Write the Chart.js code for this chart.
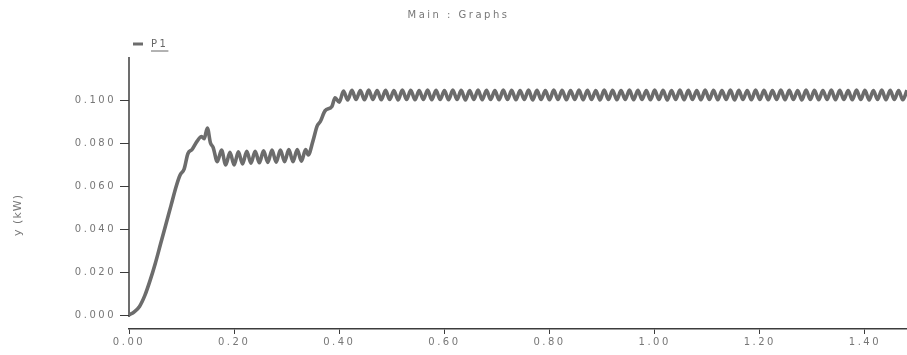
<!DOCTYPE html>
<html>
<head>
<meta charset="utf-8">
<script src="https://cdn.jsdelivr.net/npm/chart.js@4.4.1/dist/chart.umd.min.js"></script>
<style>
html,body{margin:0;padding:0;background:#fff;}
#wrap{width:907px;height:355px;position:relative;}
</style>
</head>
<body>
<div id="wrap"><canvas id="c"></canvas></div>
<script>
// ---- data ----
const chartTitle = 'Main : Graphs';
const seriesLabel = 'P1';
const yAxisTitle = 'y (kW)';
const xTickValues = [0.00, 0.20, 0.40, 0.60, 0.80, 1.00, 1.20, 1.40];
const yTickValues = [0.000, 0.020, 0.040, 0.060, 0.080, 0.100];

// start-up ramp (s, kW)
const riseTime  = [0.000,0.010,0.020,0.030,0.040,0.050,0.060,0.070,0.080,0.090,0.097,0.105,0.112,0.120,0.130,0.138,0.143,0.149,0.155,0.160];
const risePower = [0.0000,0.0015,0.0040,0.0090,0.0160,0.0240,0.0330,0.0420,0.0510,0.0600,0.0650,0.0680,0.0750,0.0770,0.0810,0.0830,0.0820,0.0870,0.0800,0.0780];

// first plateau (oscillating)
const midTime  = [0.168,0.176,0.184,0.192,0.200,0.208,0.216,0.224,0.232,0.240,0.248,0.256,0.264,0.272,0.280,0.288,0.296,0.304,0.312,0.320,0.328,0.336,0.341];
const midPower = [0.0713,0.0767,0.0698,0.0757,0.0698,0.0759,0.0703,0.0762,0.0706,0.0762,0.0708,0.0764,0.0710,0.0767,0.0711,0.0767,0.0713,0.0769,0.0713,0.0770,0.0715,0.0770,0.0745];

// second step
const stepTime  = [0.350,0.358,0.364,0.373,0.386,0.392,0.400];
const stepPower = [0.0810,0.0880,0.0900,0.0950,0.0970,0.1010,0.0990];

// steady state (oscillating)
const steadyTime = [
0.408,0.416,0.424,0.432,0.440,0.448,0.456,0.464,0.472,0.480,
0.488,0.496,0.504,0.512,0.520,0.528,0.536,0.544,0.552,0.560,
0.568,0.576,0.584,0.592,0.600,0.608,0.616,0.624,0.632,0.640,
0.648,0.656,0.664,0.672,0.680,0.688,0.696,0.704,0.712,0.720,
0.728,0.736,0.744,0.752,0.760,0.768,0.776,0.784,0.792,0.800,
0.808,0.816,0.824,0.832,0.840,0.848,0.856,0.864,0.872,0.880,
0.888,0.896,0.904,0.912,0.920,0.928,0.936,0.944,0.952,0.960,
0.968,0.976,0.984,0.992,1.000,1.008,1.016,1.024,1.032,1.040,
1.048,1.056,1.064,1.072,1.080,1.088,1.096,1.104,1.112,1.120,
1.128,1.136,1.144,1.152,1.160,1.168,1.176,1.184,1.192,1.200,
1.208,1.216,1.224,1.232,1.240,1.248,1.256,1.264,1.272,1.280,
1.288,1.296,1.304,1.312,1.320,1.328,1.336,1.344,1.352,1.360,
1.368,1.376,1.384,1.392,1.400,1.408,1.416,1.424,1.432,1.440,
1.448,1.456,1.464,1.472,1.480];
const steadyPower = [
0.1042,0.1000,0.1045,0.1002,0.1044,0.1001,0.1046,0.1002,0.1044,0.1001,
0.1045,0.1002,0.1044,0.1000,0.1046,0.1002,0.1045,0.1001,0.1044,0.1002,
0.1046,0.1001,0.1045,0.1002,0.1044,0.1001,0.1046,0.1002,0.1045,0.1000,
0.1044,0.1002,0.1046,0.1001,0.1045,0.1002,0.1044,0.1001,0.1046,0.1002,
0.1045,0.1001,0.1044,0.1002,0.1046,0.1000,0.1045,0.1002,0.1044,0.1001,
0.1046,0.1002,0.1045,0.1001,0.1044,0.1002,0.1046,0.1001,0.1045,0.1002,
0.1044,0.1000,0.1046,0.1002,0.1045,0.1001,0.1044,0.1002,0.1046,0.1001,
0.1045,0.1002,0.1044,0.1001,0.1046,0.1002,0.1045,0.1000,0.1044,0.1002,
0.1046,0.1001,0.1045,0.1002,0.1044,0.1001,0.1046,0.1002,0.1045,0.1001,
0.1044,0.1002,0.1046,0.1000,0.1045,0.1002,0.1044,0.1001,0.1046,0.1002,
0.1045,0.1001,0.1044,0.1002,0.1046,0.1001,0.1045,0.1002,0.1044,0.1000,
0.1046,0.1002,0.1045,0.1001,0.1044,0.1002,0.1046,0.1001,0.1045,0.1002,
0.1044,0.1001,0.1046,0.1002,0.1045,0.1000,0.1044,0.1002,0.1046,0.1001,
0.1045,0.1002,0.1044,0.1001,0.1045];

// ---- build chart ----
const allTime = riseTime.concat(midTime, stepTime, steadyTime);
const allPower = risePower.concat(midPower, stepPower, steadyPower);
const points = allTime.map((t, i) => ({x: t, y: allPower[i]}));

const LINE_COLOR = '#6c6c6c';
const TEXT_COLOR = '#777';
const AXIS_COLOR = '#3c3c3c';
const SPACING = '2.5px';

Chart.defaults.font.family = "'DejaVu Sans', sans-serif";
Chart.defaults.font.size = 10;
Chart.defaults.color = TEXT_COLOR;

const spacingPlugin = {
  id: 'spacing',
  beforeLayout(c) { c.ctx.letterSpacing = SPACING; },
  beforeDraw(c) { c.ctx.letterSpacing = SPACING; }
};

const yLinePlugin = {
  id: 'yLine',
  beforeDatasetsDraw(c) {
    const y = c.scales.y, ctx = c.ctx;
    const x = c.chartArea.left;
    ctx.save();
    ctx.strokeStyle = AXIS_COLOR;
    ctx.lineWidth = 1.5;
    ctx.beginPath();
    ctx.moveTo(x, y.getPixelForValue(0.12));
    ctx.lineTo(x, y.getPixelForValue(0) + 2);
    ctx.stroke();
    ctx.restore();
  }
};

const textPlugin = {
  id: 'extraText',
  afterDraw(c) {
    const ctx = c.ctx;
    const ds = c.data.datasets[0];
    // legend
    const x0 = c.chartArea.left + 4, yy = 44;
    ctx.save();
    ctx.strokeStyle = ds.borderColor;
    ctx.lineWidth = 3;
    ctx.beginPath();
    ctx.moveTo(x0, yy);
    ctx.lineTo(x0 + 10, yy);
    ctx.stroke();
    ctx.letterSpacing = SPACING;
    ctx.font = "10px 'DejaVu Sans', sans-serif";
    ctx.fillStyle = '#666';
    ctx.textBaseline = 'middle';
    ctx.textAlign = 'left';
    const tx = x0 + 18;
    ctx.fillText(ds.label, tx, yy);
    const w = ctx.measureText(ds.label).width;
    ctx.strokeStyle = '#666';
    ctx.lineWidth = 1;
    ctx.beginPath();
    ctx.moveTo(tx, yy + 7);
    ctx.lineTo(tx + w, yy + 7);
    ctx.stroke();
    // y axis title
    ctx.translate(18, 215);
    ctx.rotate(-Math.PI / 2);
    ctx.letterSpacing = '1px';
    ctx.font = "11px 'DejaVu Sans', sans-serif";
    ctx.fillStyle = TEXT_COLOR;
    ctx.textAlign = 'center';
    ctx.fillText(yAxisTitle, 0, 0);
    ctx.restore();
  }
};

const PAD_LEFT = 10;

new Chart(document.getElementById('c'), {
  type: 'line',
  data: {
    datasets: [{
      label: seriesLabel,
      data: points,
      borderColor: LINE_COLOR,
      borderWidth: 3.6,
      pointRadius: 0,
      fill: false,
      cubicInterpolationMode: 'monotone'
    }]
  },
  options: {
    responsive: true,
    maintainAspectRatio: false,
    animation: false,
    layout: { padding: { left: PAD_LEFT, right: 0, top: 0, bottom: 0 } },
    plugins: {
      legend: { display: false },
      tooltip: { enabled: false },
      title: {
        display: true,
        text: chartTitle,
        color: TEXT_COLOR,
        font: { size: 10, weight: 'normal' },
        padding: { top: 9, bottom: 36 }
      }
    },
    scales: {
      x: {
        type: 'linear',
        min: 0,
        max: 1.48,
        afterBuildTicks: s => { s.ticks = xTickValues.map(v => ({ value: v })); },
        afterFit: s => { s.height = 26; },
        ticks: {
          callback: v => Number(v).toFixed(2),
          color: TEXT_COLOR,
          padding: 2,
          maxRotation: 0,
          autoSkip: false
        },
        grid: { display: true, drawOnChartArea: false, drawTicks: true, tickLength: 5, color: AXIS_COLOR },
        border: { display: true, color: AXIS_COLOR, width: 1.5 }
      },
      y: {
        type: 'linear',
        min: -0.0065,
        max: 0.12,
        afterBuildTicks: s => { s.ticks = yTickValues.map(v => ({ value: v })); },
        afterFit: s => { s.width = 129 - PAD_LEFT; },
        ticks: {
          callback: v => Number(v).toFixed(3),
          color: TEXT_COLOR,
          padding: 4,
          autoSkip: false
        },
        grid: { display: true, drawOnChartArea: false, drawTicks: true, tickLength: 9, color: AXIS_COLOR },
        border: { display: false },
        title: { display: false }
      }
    }
  },
  plugins: [spacingPlugin, yLinePlugin, textPlugin]
});
</script>
</body>
</html>
